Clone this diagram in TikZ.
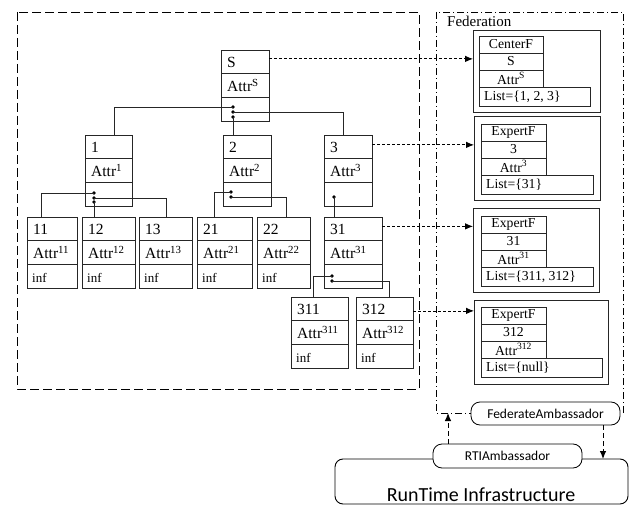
\documentclass[tikz,border=0pt]{standalone}
\usepackage{fontspec}
\setmainfont{Liberation Serif}
\newfontfamily\carl{Carlito}
\usetikzlibrary{arrows.meta}
\newcommand\tfont{\fontsize{15.5pt}{17pt}\selectfont}
\newcommand\ifont{\fontsize{13pt}{14pt}\selectfont}
\newcommand\ffont{\fontsize{13.7pt}{15pt}\selectfont}
\tikzset{
  tcell/.style={draw=black!85, line width=0.8pt, minimum height=23.8pt, inner sep=0pt, outer sep=0pt},
  tlbl/.style={anchor=base west, inner sep=0pt, xshift=6pt, yshift=-6pt, font=\tfont},
  ilbl/.style={anchor=base west, inner sep=0pt, xshift=5pt, yshift=-6pt, font=\ifont},
  fcell/.style={draw=black!85, line width=0.8pt, inner sep=0pt, outer sep=0pt, font=\ffont},
  flbl/.style={anchor=west, inner sep=0pt, xshift=5pt, font=\ffont},
  fouter/.style={draw=black!85, line width=1pt, inner sep=0pt, outer sep=0pt, anchor=north west},
  conn/.style={draw=black!85, line width=0.8pt},
  farrow/.style={line width=0.8pt, dash pattern=on 3pt off 2pt, -{Latex[length=8pt,width=6.5pt]}},
  barrow/.style={line width=0.9pt, dash pattern=on 5pt off 3pt, -{Latex[length=8pt,width=6.5pt]}},
  dotc/.style={circle, fill=black, inner sep=0pt, minimum size=3.6pt},
  amb/.style={draw, line width=0.8pt, rounded corners=9pt, fill=white, font=\carl\fontsize{13.5pt}{15pt}\selectfont, inner sep=0pt},
}
% #1 name, #2 left x, #3 top y, #4 width, #5 title, #6 attr, #7 third row
\newcommand\treebox[7]{%
  \node[tcell, minimum width=#4pt, label={[tlbl]west:{#5}}] (#1a) at ({#2+#4/2},{#3+11.9}) {};
  \node[tcell, minimum width=#4pt, anchor=north, label={[tlbl]west:{#6}}] (#1b) at (#1a.south) {};
  \node[tcell, minimum width=#4pt, anchor=north, label={[ilbl]west:{#7}}] (#1c) at (#1b.south) {};
}
% #1 name, #2 x, #3 top, #4 stack w, #5 list w, #6 title, #7 id, #8 attr, #9 list
\newcommand\fstack[9]{%
  \node[fcell, minimum width=#4pt, minimum height=17pt, anchor=north west] (#1t) at (#2,#3) {#6};
  \node[fcell, minimum width=#4pt, minimum height=17pt, anchor=north] (#1i) at (#1t.south) {#7};
  \node[fcell, minimum width=#4pt, minimum height=17pt, anchor=north] (#1r) at (#1i.south) {#8};
  \node[fcell, minimum width=#5pt, minimum height=19pt, anchor=north west, label={[flbl]west:{#9}}] (#1l) at (#1r.south west) {};
}
\begin{document}
\begin{tikzpicture}[x=1pt, y=-1pt]
\useasboundingbox (0,0) rectangle (629,505);

% left dashed frame
\draw[line width=0.9pt, dash pattern=on 9pt off 4pt] (17,12) rectangle (419,389);

% federation frame
\draw[line width=0.8pt, dash pattern=on 7pt off 3pt on 1pt off 3pt] (436,12) rectangle (623,413);
\node[anchor=west, font=\fontsize{15pt}{17pt}\selectfont, inner sep=0pt] (fedlbl) at (447,21) {Federation};

% tree boxes
\treebox{nS}{221}{50}{48}{S}{Attr\textsuperscript{S}}{}
\treebox{nA}{85}{135}{47}{1}{Attr\textsuperscript{1}}{}
\treebox{nB}{223}{135}{48}{2}{Attr\textsuperscript{2}}{}
\treebox{nC}{324}{135}{48}{3}{Attr\textsuperscript{3}}{}
\treebox{nAA}{27}{217}{50}{11}{Attr\textsuperscript{11}}{inf}
\treebox{nAB}{82}{217}{53}{12}{Attr\textsuperscript{12}}{inf}
\treebox{nAC}{139}{217}{53}{13}{Attr\textsuperscript{13}}{inf}
\treebox{nBA}{197}{217}{55}{21}{Attr\textsuperscript{21}}{inf}
\treebox{nBB}{257}{217}{53}{22}{Attr\textsuperscript{22}}{inf}
\treebox{nCA}{324}{217}{58}{31}{Attr\textsuperscript{31}}{}
\treebox{nCAA}{291}{297}{57}{311}{Attr\textsuperscript{311}}{inf}
\treebox{nCAB}{356}{297}{57}{312}{Attr\textsuperscript{312}}{inf}

% dots
\node[dotc] (dS1) at (233,107) {};
\node[dotc] (dS2) at (233,112) {};
\node[dotc] (dS3) at (233,117) {};
\node[dotc] (dA1) at (94,193) {};
\node[dotc] (dA2) at (94,198) {};
\node[dotc] (dA3) at (94,202) {};
\node[dotc] (dB1) at (231,192) {};
\node[dotc] (dB2) at (231,197) {};
\node[dotc] (dC1) at (334,197) {};
\node[dotc] (dCA1) at (332,276) {};
\node[dotc] (dCA2) at (332,281) {};

% connectors
\draw[conn] (dS1.center) -| ([xshift=5.5pt]nAa.north);
\draw[conn] (dS2.center) -| ([xshift=-5pt]nCa.north);
\draw[conn] (dS3.center) -- (dS3.center |- nBa.north);
\draw[conn] (dA1.center) -| ([xshift=-11pt]nAAa.north);
\draw[conn] (dA2.center) -| ([xshift=0.5pt]nACa.north);
\draw[conn] (dA3.center) -- (dA3.center |- nABa.north);
\draw[conn] (dB1.center) -| ([xshift=-10.5pt]nBAa.north);
\draw[conn] (dB2.center) -| ([xshift=2.5pt]nBBa.north);
\draw[conn] (dC1.center) -- (dC1.center |- nCAa.north);
\draw[conn] (dCA1.center) -| ([xshift=-6.5pt]nCAAa.north);
\draw[conn] (dCA2.center) -| ([xshift=4.5pt]nCABa.north);

% federation boxes
\node[fouter, minimum width=127pt, minimum height=82pt] (fb1) at (473,31) {};
\node[fouter, minimum width=126pt, minimum height=84pt] (fb2) at (474,117) {};
\node[fouter, minimum width=126pt, minimum height=83pt] (fb3) at (473,209) {};
\node[fouter, minimum width=134pt, minimum height=84pt] (fb4) at (474,300) {};
\fstack{fa}{479}{36}{64}{111}{CenterF}{S}{Attr\textsuperscript{S}}{List=\{1, 2, 3\}}
\fstack{fbb}{481}{124}{65}{112}{ExpertF}{3}{Attr\textsuperscript{3}}{List=\{31\}}
\fstack{fc}{481}{216}{65}{112}{ExpertF}{31}{Attr\textsuperscript{31}}{List=\{311, 312\}}
\fstack{fd}{481}{307}{65}{121}{ExpertF}{312}{Attr\textsuperscript{312}}{List=\{null\}}

% mapping arrows
\draw[farrow] ([yshift=3pt]nSa.east) -- ([yshift=3pt]nSa.east -| fb1.west);
\draw[farrow] ([yshift=2pt]nCa.east) -- ([yshift=2pt]nCa.east -| fb2.west);
\draw[farrow] ([yshift=2.5pt]nCAa.east) -- ([yshift=2.5pt]nCAa.east -| fb3.west);
\draw[farrow] ([yshift=-2pt]nCABa.east) -- ([yshift=-2pt]nCABa.east -| fb4.west);

% RTI
\draw[line width=0.9pt, rounded corners=8pt] (335,459) rectangle (628,504);
\node[font=\carl\fontsize{20pt}{22pt}\selectfont, inner sep=0pt] (rtlbl) at (481,494.5) {RunTime Infrastructure};
\node[amb, minimum width=149pt, minimum height=23pt] (fedamb) at (545.5,413.5) {FederateAmbassador};
\node[amb, minimum width=149pt, minimum height=24pt] (rtiamb) at (507.5,456) {RTIAmbassador};
\coordinate (upx) at (448,413);
\coordinate (dnx) at (603,459);
\draw[barrow] (rtiamb.north -| upx) -- (upx);
\draw[barrow] (fedamb.south -| dnx) -- (dnx);
\end{tikzpicture}
\end{document}
